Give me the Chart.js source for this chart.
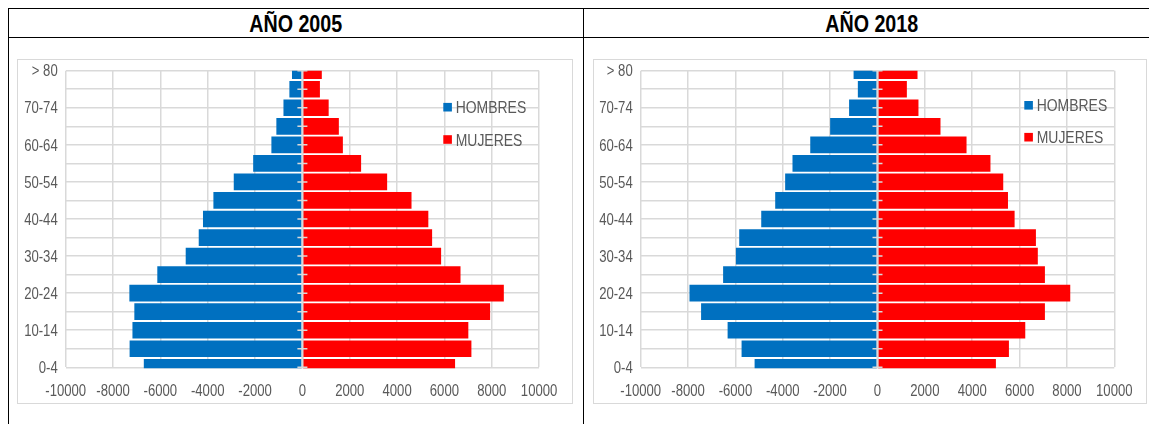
<!DOCTYPE html>
<html>
<head>
<meta charset="utf-8">
<script src="https://cdn.jsdelivr.net/npm/chart.js@4.4.1/dist/chart.umd.min.js"></script>
<style>
  html, body { margin: 0; padding: 0; background: #fff; }
  body { width: 1149px; height: 424px; overflow: hidden; position: relative;
         font-family: "Liberation Sans", Arial, sans-serif; }
  .line { position: absolute; background: #000; }
  .title { position: absolute; top: 9px; height: 29px; line-height: 29px; text-align: center;
           font-weight: bold; font-size: 24px; color: #000; }
  .title span { display: inline-block; transform: scaleX(0.82); transform-origin: center; }
  .frame { position: absolute; top: 59px; height: 343px; border: 1px solid #d9d9d9; background: #fff; }
  .frame canvas { position: absolute; left: 0; top: 0; }
</style>
</head>
<body>
  <!-- table grid -->
  <div class="line" style="left:8px;top:8px;width:1160px;height:1px"></div>
  <div class="line" style="left:8px;top:37px;width:1160px;height:1px"></div>
  <div class="line" style="left:8px;top:8px;width:1px;height:420px"></div>
  <div class="line" style="left:583px;top:8px;width:1px;height:420px"></div>

  <div class="title" style="left:9px;width:574px"><span id="title0"></span></div>
  <div class="title" style="left:584px;width:576px"><span id="title1"></span></div>

  <div class="frame" style="left:17px;width:554px"><canvas id="c0" width="554" height="343"></canvas></div>
  <div class="frame" style="left:593px;width:552px"><canvas id="c1" width="552" height="343"></canvas></div>

<script>
// Age groups, youngest first (drawn bottom to top)
const ageGroups = ['0-4', '5-9', '10-14', '15-19', '20-24', '25-29', '30-34', '35-39', '40-44',
                   '45-49', '50-54', '55-59', '60-64', '65-69', '70-74', '75-79', '> 80'];

const seriesNames = ['HOMBRES', 'MUJERES'];
const yearTitles = ['AÑO 2005', 'AÑO 2018'];

// Men are stored as negative values so they extend to the left of the axis
const hombres2005 = [-6700, -7300, -7180, -7100, -7310, -6130, -4930, -4380, -4200,
                     -3760, -2900, -2080, -1310, -1100, -800, -550, -440];
const mujeres2005 = [6450, 7140, 7010, 7930, 8510, 6680, 5860, 5480, 5320,
                     4610, 3580, 2480, 1710, 1540, 1110, 740, 820];

const hombres2018 = [-5190, -5740, -6330, -7450, -7940, -6520, -5980, -5840, -4910,
                     -4320, -3900, -3590, -2840, -2000, -1200, -830, -1010];
const mujeres2018 = [5000, 5550, 6240, 7070, 8140, 7070, 6770, 6690, 5790,
                     5510, 5310, 4770, 3760, 2660, 1730, 1240, 1690];

// Value axis range and step
const xMin = -10000;
const xMax = 10000;
const xStep = 2000;

const COLOR_MEN = '#0070C0';
const COLOR_WOMEN = '#FF0000';
const GRID = '#d9d9d9';
const TEXT = '#595959';
const FONT_FAMILY = '"Liberation Sans", Arial, sans-serif';
const NARROW = 0.82;   // horizontal squeeze giving a narrow face

document.getElementById('title0').textContent = yearTitles[0];
document.getElementById('title1').textContent = yearTitles[1];

function narrowText(ctx, text, x, y, align) {
  ctx.save();
  ctx.translate(x, y);
  ctx.scale(NARROW, 1);
  ctx.textAlign = align;
  ctx.fillText(text, 0, 0);
  ctx.restore();
}

// Vertical axis through zero with small cross ticks at every age group
const zeroAxisPlugin = {
  id: 'zeroAxis',
  afterDatasetsDraw(chart) {
    const { ctx, chartArea, scales } = chart;
    const x0 = scales.x.getPixelForValue(0);
    ctx.save();
    ctx.strokeStyle = GRID;
    ctx.lineWidth = 2;
    ctx.beginPath();
    ctx.moveTo(x0, chartArea.top);
    ctx.lineTo(x0, chartArea.bottom);
    ctx.stroke();
    ctx.lineWidth = 1.5;
    ctx.beginPath();
    for (let i = 0; i < chart.data.labels.length; i++) {
      const y = scales.y.getPixelForValue(i);
      ctx.moveTo(x0 - 5, y);
      ctx.lineTo(x0 + 5, y);
    }
    ctx.stroke();
    ctx.restore();
  }
};

// Tick labels of both scales, set in a narrow face
const narrowTicksPlugin = {
  id: 'narrowTicks',
  afterDraw(chart) {
    const { ctx, chartArea, scales } = chart;
    ctx.save();
    ctx.fillStyle = TEXT;
    ctx.font = '16px ' + FONT_FAMILY;
    ctx.textBaseline = 'alphabetic';
    scales.x.ticks.forEach(t => {
      narrowText(ctx, String(t.value), scales.x.getPixelForValue(t.value), chartArea.bottom + 28.2, 'center');
    });
    scales.y.ticks.forEach(t => {
      if (t.value % 2 !== 0) return;
      narrowText(ctx, scales.y.getLabelForValue(t.value), chartArea.left - 8,
                 scales.y.getPixelForValue(t.value) + 5.7, 'right');
    });
    ctx.restore();
  }
};

// Legend drawn over the plot area, entries stacked vertically
const innerLegendPlugin = {
  id: 'innerLegend',
  afterDraw(chart, args, opts) {
    const { ctx, chartArea } = chart;
    const left = chartArea.left + opts.x;
    let cy = chartArea.top + opts.y;
    ctx.save();
    ctx.font = '17px ' + FONT_FAMILY;
    ctx.textBaseline = 'alphabetic';
    chart.data.datasets.forEach(ds => {
      ctx.fillStyle = ds.backgroundColor;
      ctx.fillRect(left, cy - 4.3, 8.6, 8.6);
      ctx.fillStyle = TEXT;
      narrowText(ctx, ds.label, left + 12.4, cy + 6.1, 'left');
      cy += opts.spacing;
    });
    ctx.restore();
  }
};

function makePyramid(canvasId, men, women, yAxisWidth, rightPad, legendPos) {
  return new Chart(document.getElementById(canvasId), {
    type: 'bar',
    data: {
      labels: ageGroups,
      datasets: [
        { label: seriesNames[0], data: men, backgroundColor: COLOR_MEN,
          barPercentage: 0.9, categoryPercentage: 1, clip: { left: 0, right: 0, top: 0, bottom: 1 } },
        { label: seriesNames[1], data: women, backgroundColor: COLOR_WOMEN,
          barPercentage: 0.9, categoryPercentage: 1, clip: { left: 0, right: 0, top: 0, bottom: 1 } }
      ]
    },
    options: {
      indexAxis: 'y',
      responsive: false,
      animation: false,
      devicePixelRatio: 1,
      layout: { padding: { top: 10.7, right: rightPad, left: 0, bottom: 0 } },
      plugins: {
        legend: { display: false },
        tooltip: { enabled: false },
        innerLegend: legendPos
      },
      scales: {
        x: {
          type: 'linear',
          stacked: true,
          min: xMin,
          max: xMax,
          ticks: { stepSize: xStep, display: false },
          grid: { color: GRID, lineWidth: 1.5, drawTicks: false },
          border: { display: false },
          afterFit: s => { s.height = 35.7; }
        },
        y: {
          type: 'category',
          stacked: true,
          reverse: true,
          offset: false,
          ticks: { autoSkip: false, display: false },
          grid: { color: GRID, lineWidth: 1.5, drawTicks: false, offset: false },
          border: { display: false },
          afterFit: s => { s.width = yAxisWidth; }
        }
      }
    },
    plugins: [zeroAxisPlugin, narrowTicksPlugin, innerLegendPlugin]
  });
}

makePyramid('c0', hombres2005, mujeres2005, 47.7, 554 - 47.7 - 473.4, { x: 377.6, y: 36.5, spacing: 32.3 });
makePyramid('c1', hombres2018, mujeres2018, 46.7, 552 - 46.7 - 473.6, { x: 383.6, y: 34.6, spacing: 31.9 });
</script>
</body>
</html>
